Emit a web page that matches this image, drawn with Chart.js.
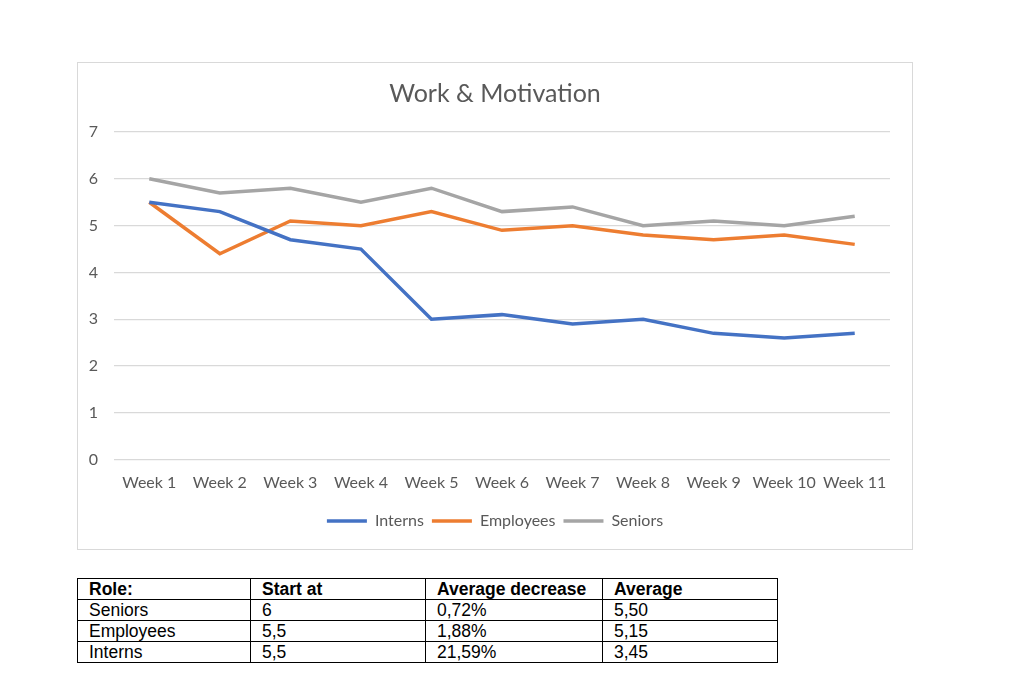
<!DOCTYPE html>
<html>
<head>
<meta charset="utf-8">
<script src="https://cdn.jsdelivr.net/npm/chart.js@4"></script>
<style>
  body { margin: 0; background: #fff; width: 1024px; height: 690px; position: relative; }
  #box { position: absolute; left: 77px; top: 62px; width: 836px; height: 488px; border: 1px solid #d9d9d9; box-sizing: border-box; }
  #tbl { position: absolute; left: 77px; top: 578px; border-collapse: collapse; font-family: "Liberation Sans", Arial, sans-serif; font-size: 17.5px; color: #000; }
  #tbl td { border: 1px solid #000; height: 20px; padding: 0 0 0 11px; line-height: 19px; }
  #tbl tr:first-child td { font-weight: bold; }
</style>
</head>
<body>
<div id="box"><canvas id="chart"></canvas></div>
<table id="tbl"></table>
<script>
var weeks = ["Week 1", "Week 2", "Week 3", "Week 4", "Week 5", "Week 6", "Week 7", "Week 8", "Week 9", "Week 10", "Week 11"];
var interns = [5.5, 5.3, 4.7, 4.5, 3.0, 3.1, 2.9, 3.0, 2.7, 2.6, 2.7];
var employees = [5.5, 4.4, 5.1, 5.0, 5.3, 4.9, 5.0, 4.8, 4.7, 4.8, 4.6];
var seniors = [6.0, 5.7, 5.8, 5.5, 5.8, 5.3, 5.4, 5.0, 5.1, 5.0, 5.2];

var tableHead = ["Role:", "Start at", "Average decrease", "Average"];
var tableRows = [
  ["Seniors", "6", "0,72%", "5,50"],
  ["Employees", "5,5", "1,88%", "5,15"],
  ["Interns", "5,5", "21,59%", "3,45"]
];
var colWidths = [173, 175, 177, 175];

// table under the chart
var tbl = document.getElementById('tbl');
[tableHead].concat(tableRows).forEach(function (row) {
  var tr = document.createElement('tr');
  row.forEach(function (cell, i) {
    var td = document.createElement('td');
    td.textContent = cell;
    td.style.width = (colWidths[i] - 12) + 'px';
    tr.appendChild(td);
  });
  tbl.appendChild(tr);
});

var grey = '#595959';
var font = "Lato, 'Noto Sans', sans-serif";

function line(label, data, color) {
  return {
    label: label,
    data: data,
    borderColor: color,
    backgroundColor: color,
    borderWidth: 3.5,
    pointRadius: 0,
    tension: 0,
    fill: false
  };
}

new Chart(document.getElementById('chart'), {
  type: 'line',
  data: {
    labels: weeks,
    datasets: [
      line('Interns', interns, '#4472C4'),
      line('Employees', employees, '#ED7D31'),
      line('Seniors', seniors, '#A5A5A5')
    ]
  },
  options: {
    responsive: true,
    maintainAspectRatio: false,
    animation: false,
    layout: { padding: { left: 0, right: 0, top: 0, bottom: 10 } },
    plugins: {
      title: {
        display: true,
        text: 'Work & Motivation',
        color: grey,
        font: { family: font, size: 25, weight: 'normal' },
        padding: { top: 16, bottom: 23 }
      },
      legend: {
        position: 'bottom',
        labels: {
          usePointStyle: true,
          pointStyle: 'line',
          pointStyleWidth: 40,
          color: grey,
          font: { family: font, size: 16 },
          padding: 8
        }
      },
      tooltip: { enabled: false }
    },
    scales: {
      x: {
        offset: true,
        grid: { display: false, drawTicks: false },
        border: { display: false },
        ticks: { color: grey, font: { family: font, size: 16 }, padding: 13, maxRotation: 0 }
      },
      y: {
        min: 0,
        max: 7,
        ticks: { stepSize: 1, color: grey, font: { family: font, size: 16 }, padding: 16 },
        grid: { color: '#d9d9d9', lineWidth: 1.3, drawTicks: false },
        border: { display: false },
        afterFit: function (scale) { scale.width = 36; }
      },
      // empty right axis, only keeps the gap on the right side
      yRight: {
        position: 'right',
        ticks: { display: false },
        grid: { display: false, drawTicks: false },
        border: { display: false },
        afterFit: function (scale) { scale.width = 22; }
      }
    }
  }
});
</script>
</body>
</html>
